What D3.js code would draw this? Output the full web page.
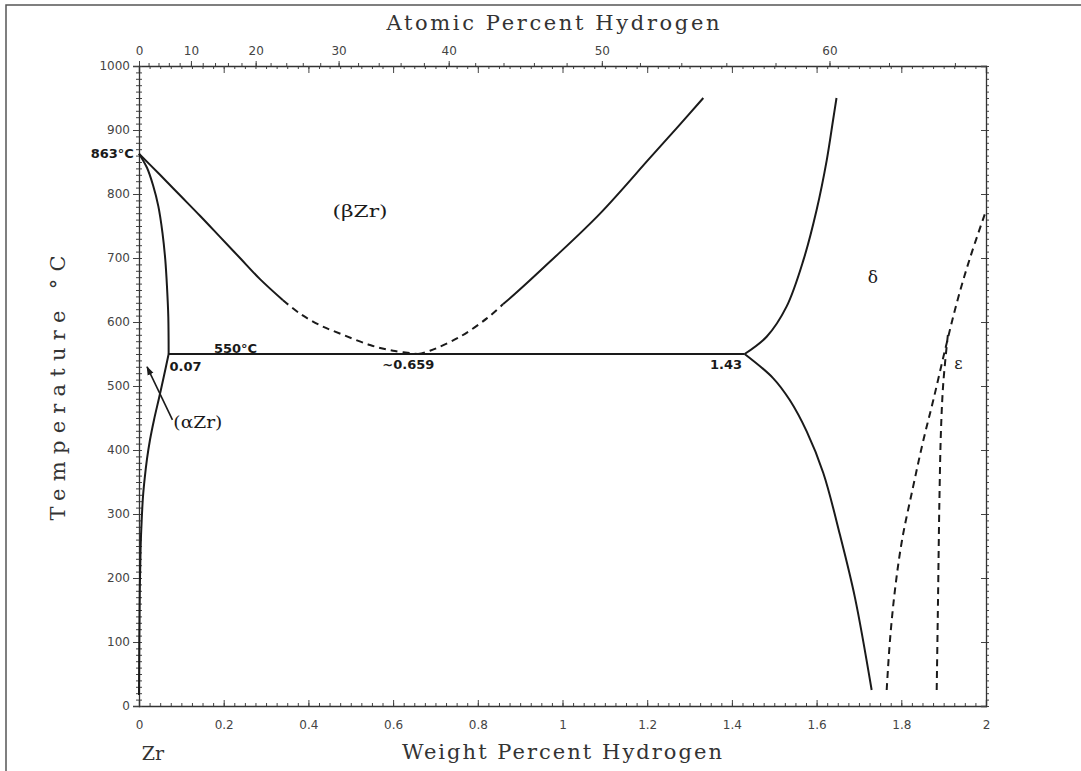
<!DOCTYPE html>
<html><head><meta charset="utf-8">
<script src="https://cdn.jsdelivr.net/npm/d3@7"></script>
<style>body{margin:0;background:#fff} svg{display:block}</style>
</head><body><svg id="c" width="1081" height="771"></svg>
<script>
// ---- data (weight % H , temperature °C) ----
const wtTicks = [0, 0.2, 0.4, 0.6, 0.8, 1, 1.2, 1.4, 1.6, 1.8, 2];
const tempTicks = [0, 100, 200, 300, 400, 500, 600, 700, 800, 900, 1000];
const atTicks = [0, 10, 20, 30, 40, 50, 60];

const alphaBetaBoundary = [[0,863],[0.0189,841],[0.0330,814],[0.0456,781],[0.0555,739],[0.0621,697],[0.0661,655],[0.0692,608],[0.07,550]];
const betaTransusSolid = [[0,863],[0.0496,830],[0.0968,798],[0.144,766],[0.1913,733],[0.2385,700],[0.2857,667],[0.340,634]];
const betaTransusDashed = [[0.340,634],[0.3802,613],[0.4274,595],[0.4817,580],[0.5455,564],[0.5998,555],[0.659,550]];
const betaDeltaDashed = [[0.659,550],[0.687,555],[0.758,577],[0.822,606],[0.860,628]];
const betaDeltaSolid = [[0.860,628],[0.888,644],[0.970,694],[1.088,769],[1.206,856],[1.2697,903],[1.3325,950]];
const eutectoid = [[0.07,550],[1.43,550]];
const deltaUpper = [[1.43,550],[1.482,577],[1.529,624],[1.569,697],[1.600,775],[1.624,853],[1.639,916],[1.647,950]];
const deltaLower = [[1.43,550],[1.4977,512],[1.5366,478],[1.5766,429],[1.6158,364],[1.6553,267],[1.6907,169],[1.730,25]];
const alphaSolvus = [[0.07,550],[0.0590,516],[0.0472,481],[0.0354,447],[0.0260,416],[0.0189,386],[0.0135,356],[0.0094,327],[0.0064,291],[0.0038,247],[0.0019,181],[0.0007,103],[0,17]];
const deltaEpsLeft = [[1.7655,25],[1.7733,103],[1.785,181],[1.8017,259],[1.8277,342],[1.8513,413],[1.8756,478],[1.9032,556],[1.9315,631],[1.9622,700],[1.998,770]];
const epsRight = [[1.8836,25],[1.8867,166],[1.890,322],[1.8937,431],[1.8992,505],[1.910,580]];
const alphaArrow = [[0.079,447],[0.019,530]];

const labels = [
  {t:"863°C", w:-0.012, T:863, anchor:"end"},
  {t:"550°C", w:0.228, T:559, anchor:"middle"},
  {t:"0.07", w:0.072, T:530, anchor:"start"},
  {t:"~0.659", w:0.636, T:533, anchor:"middle"},
  {t:"1.43", w:1.386, T:533, anchor:"middle"},
];
const phaseLabels = [
  {t:"(βZr)", w:0.522, T:773, size:17, len:55},
  {t:"(αZr)", w:0.139, T:444, size:17, len:49},
  {t:"δ", w:1.733, T:670, size:17},
  {t:"ε", w:1.935, T:535, size:16},
];

// ---- layout ----
const svg = d3.select("#c");
const X0 = 139, X1 = 986, Y0 = 706, Y1 = 66;
const x = d3.scaleLinear().domain([0,2]).range([X0,X1]);
const y = d3.scaleLinear().domain([0,1000]).range([Y0,Y1]);
const atToWt = a => 100*a*1.008/(a*1.008 + (100-a)*91.224);
const atDense = d3.range(0, 65.5, 0.5);
const xa = d3.scaleLinear().domain(atDense).range(atDense.map(a => x(atToWt(a))));

svg.append("rect").attr("width",1081).attr("height",771).attr("fill","#fff");
svg.append("path").attr("d","M6,771 V5 H1081").attr("fill","none").attr("stroke","#555").attr("stroke-width",1.5);

const tickStyle = g => { g.selectAll(".tick line").attr("stroke","#444").attr("stroke-width",1);
  g.selectAll("text").attr("font-family","DejaVu Sans, sans-serif").attr("font-size",12).attr("fill","#444"); };
const noDomain = g => g.select(".domain").remove();

// bottom
svg.append("g").attr("transform",`translate(0,${Y0})`)
  .call(d3.axisBottom(x).tickValues(d3.range(0,2.001,0.025)).tickSize(-3).tickFormat(""))
  .call(noDomain).call(tickStyle);
svg.append("g").attr("transform",`translate(0,${Y0})`)
  .call(d3.axisBottom(x).tickValues(wtTicks).tickSize(-6).tickPadding(14).tickFormat(d=>String(d)))
  .call(tickStyle).call(g=>g.select(".domain").attr("stroke","#333").attr("stroke-width",1.3));
// top (weight % ticks inward)
svg.append("g").attr("transform",`translate(0,${Y1})`)
  .call(d3.axisTop(x).tickValues(d3.range(0,2.001,0.025)).tickSize(-3).tickFormat(""))
  .call(noDomain).call(tickStyle);
svg.append("g").attr("transform",`translate(0,${Y1})`)
  .call(d3.axisTop(x).tickValues(wtTicks).tickSize(-7).tickFormat(""))
  .call(tickStyle).call(g=>g.select(".domain").attr("stroke","#333").attr("stroke-width",1.3));
// top (atomic % outward)
svg.append("g").attr("transform",`translate(0,${Y1})`)
  .call(d3.axisTop(xa).tickValues(d3.range(0,65,2)).tickSize(3).tickFormat(""))
  .call(noDomain).call(tickStyle);
svg.append("g").attr("transform",`translate(0,${Y1})`)
  .call(d3.axisTop(xa).tickValues(atTicks).tickSize(5).tickPadding(6).tickFormat(d=>String(d)))
  .call(noDomain).call(tickStyle);
// left
svg.append("g").attr("transform",`translate(${X0},0)`)
  .call(d3.axisLeft(y).tickValues(d3.range(0,1001,10)).tickSize(3).tickFormat(""))
  .call(noDomain).call(tickStyle);
svg.append("g").attr("transform",`translate(${X0},0)`)
  .call(d3.axisLeft(y).tickValues(d3.range(0,1001,10)).tickSize(-3).tickFormat(""))
  .call(noDomain).call(tickStyle);
svg.append("g").attr("transform",`translate(${X0},0)`)
  .call(d3.axisLeft(y).tickValues(tempTicks).tickSize(6).tickPadding(3).tickFormat(d=>String(d)))
  .call(tickStyle).call(g=>g.select(".domain").attr("stroke","#333").attr("stroke-width",1.3));
// right
svg.append("g").attr("transform",`translate(${X1},0)`)
  .call(d3.axisRight(y).tickValues(d3.range(0,1001,10)).tickSize(3).tickFormat(""))
  .call(noDomain).call(tickStyle);
svg.append("g").attr("transform",`translate(${X1},0)`)
  .call(d3.axisRight(y).tickValues(tempTicks).tickSize(-5).tickFormat(""))
  .call(tickStyle).call(g=>g.select(".domain").attr("stroke","#333").attr("stroke-width",1.3));

// axis titles
const title = (t, tx, ty, len, rot) => svg.append("text").text(t)
  .attr("transform",`translate(${tx},${ty})${rot?" rotate(-90)":""}`)
  .attr("text-anchor","middle").attr("dy","0.35em")
  .attr("font-family","DejaVu Serif, serif").attr("font-size",21).attr("fill","#333")
  .attr("textLength",len).attr("lengthAdjust","spacing");
title("Atomic Percent Hydrogen", 553, 23, 333, false);
title("Weight Percent Hydrogen", 562, 752, 320, false);
title("Temperature °C", 58, 388, 265, true);

// curves
const line = d3.line().x(d=>x(d[0])).y(d=>y(d[1])).curve(d3.curveCatmullRom.alpha(0.5));
const straight = d3.line().x(d=>x(d[0])).y(d=>y(d[1]));
const plotLine = (data, dashed, gen) => svg.append("path").datum(data).attr("d", gen||line)
  .attr("fill","none").attr("stroke","#1a1a1a").attr("stroke-width",2)
  .attr("stroke-dasharray", dashed ? "7,5" : null);
plotLine(alphaBetaBoundary,false);
plotLine(betaTransusSolid,false);
plotLine(betaTransusDashed,true);
plotLine(betaDeltaDashed,true);
plotLine(betaDeltaSolid,false);
plotLine(eutectoid,false,straight);
plotLine(deltaUpper,false);
plotLine(deltaLower,false);
plotLine(alphaSolvus,false);
plotLine(deltaEpsLeft,true);
plotLine(epsRight,true);

// arrow
svg.append("defs").append("marker").attr("id","ah").attr("viewBox","0 0 10 10")
  .attr("refX",9).attr("refY",5).attr("markerWidth",9).attr("markerHeight",9)
  .attr("orient","auto").attr("markerUnits","userSpaceOnUse")
  .append("path").attr("d","M0,1.5 L10,5 L0,8.5 Z").attr("fill","#1a1a1a");
svg.append("path").datum(alphaArrow).attr("d",straight).attr("stroke","#1a1a1a")
  .attr("stroke-width",1.6).attr("fill","none").attr("marker-end","url(#ah)");

// numeric labels
labels.forEach(l => svg.append("text").text(l.t).attr("x",x(l.w)).attr("y",y(l.T))
  .attr("text-anchor",l.anchor).attr("dy","0.35em")
  .attr("font-family","DejaVu Sans, sans-serif").attr("font-size",13).attr("font-weight","bold").attr("fill","#1a1a1a"));
// phase labels
phaseLabels.forEach(l => { const t = svg.append("text").text(l.t).attr("x",x(l.w)).attr("y",y(l.T))
  .attr("text-anchor","middle").attr("dy","0.35em")
  .attr("font-family","DejaVu Serif, serif").attr("font-size",l.size).attr("fill","#1a1a1a");
  if (l.len) t.attr("textLength",l.len).attr("lengthAdjust","spacingAndGlyphs"); });
svg.append("text").text("Zr").attr("x",x(0)+14).attr("y",753).attr("dy","0.35em").attr("text-anchor","middle")
  .attr("font-family","DejaVu Serif, serif").attr("font-size",19).attr("fill","#333");
</script></body></html>
